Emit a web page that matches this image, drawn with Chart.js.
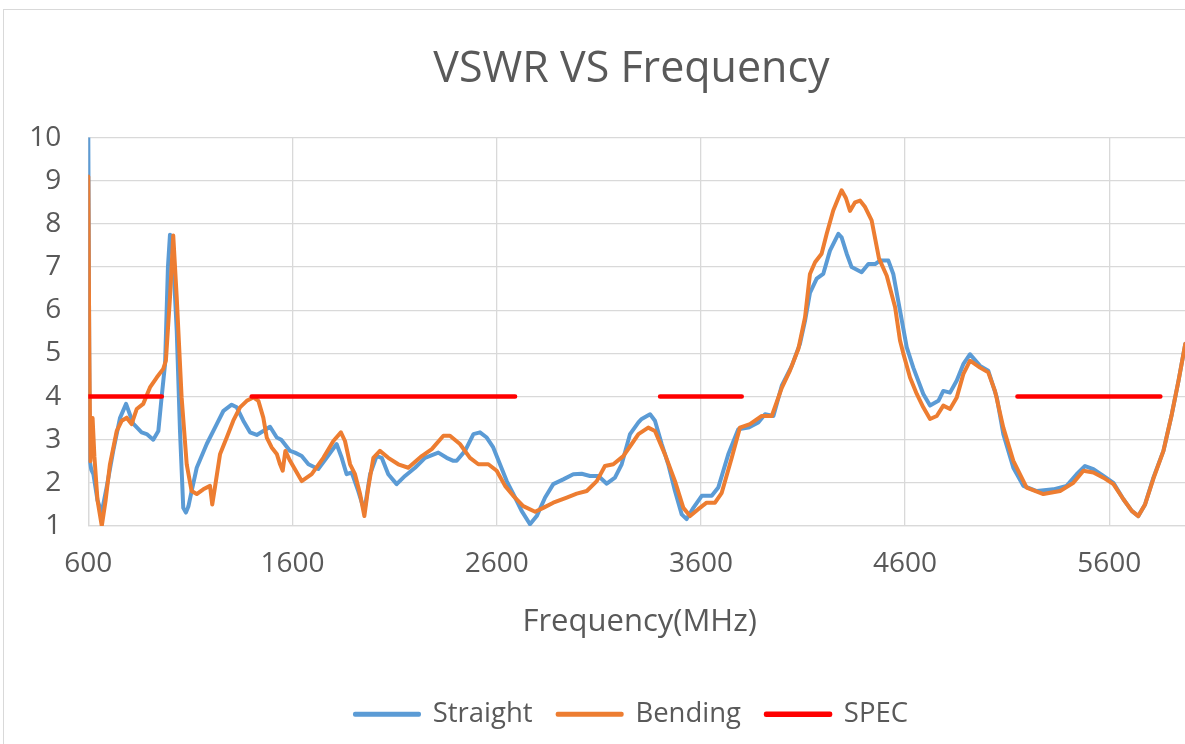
<!DOCTYPE html>
<html>
<head>
<meta charset="utf-8">
<title>VSWR VS Frequency</title>
<script src="https://cdn.jsdelivr.net/npm/chart.js@4.4.1/dist/chart.umd.min.js"></script>
<style>
	html, body { margin: 0; padding: 0; overflow: hidden; background: #fff; }
	#frame  { position: absolute; left: 3px; top: 9px; width: 1400px; height: 900px; border: 1px solid #d9d9d9; }
	#wrap   { position: absolute; left: 0; top: 0; width: 1263px; height: 744px; }
</style>
</head>
<body>
<div id="frame"></div>
<div id="wrap"><canvas id="chart" width="1263" height="744"></canvas></div>
<script>
// x ticks (MHz)
const X_TICKS = [600, 1600, 2600, 3600, 4600, 5600];

// Straight
const STRAIGHT_MHZ  = [600, 607, 615, 625, 645, 665, 690, 722, 755, 785, 820, 861, 886, 918, 943, 959, 976, 990, 1000, 1010,
	1033, 1049, 1065, 1078, 1090, 1106, 1131, 1180, 1229, 1262, 1302, 1327, 1359, 1392, 1425, 1457, 1490, 1523, 1545, 1588,
	1612, 1645, 1678, 1726, 1767, 1816, 1841, 1865, 1890, 1922, 1952, 1980, 2012, 2037, 2069, 2110, 2151, 2200, 2249, 2314,
	2355, 2388, 2404, 2445, 2486, 2518, 2551, 2583, 2616, 2649, 2690, 2722, 2763, 2796, 2837, 2877, 2926, 2975, 3016, 3057,
	3098, 3139, 3179, 3212, 3253, 3294, 3310, 3351, 3375, 3408, 3440, 3473, 3506, 3530, 3563, 3604, 3653, 3685, 3734, 3783,
	3832, 3881, 3914, 3955, 3996, 4045, 4085, 4110, 4134, 4167, 4199, 4232, 4273, 4289, 4314, 4338, 4387, 4420, 4453, 4477,
	4518, 4542, 4575, 4608, 4640, 4689, 4722, 4763, 4787, 4820, 4853, 4885, 4918, 4967, 5007, 5049, 5081, 5130, 5179, 5245,
	5326, 5391, 5440, 5481, 5522, 5571, 5620, 5669, 5710, 5742, 5775, 5816, 5865, 5906, 5939, 5972];
const STRAIGHT_VSWR = [10.0, 2.5, 2.3, 2.2, 1.6, 1.3, 1.9, 2.74, 3.5, 3.83, 3.37, 3.17, 3.13, 3.0, 3.2, 3.98, 4.76, 7.0, 7.75, 7.7,
	5.53, 3.2, 1.42, 1.31, 1.45, 1.81, 2.35, 2.9, 3.36, 3.67, 3.81, 3.75, 3.44, 3.17, 3.11, 3.2, 3.3, 3.05, 3.0, 2.74,
	2.70, 2.62, 2.43, 2.32, 2.58, 2.9, 2.58, 2.2, 2.24, 1.81, 1.35, 2.2, 2.62, 2.58, 2.2, 1.97, 2.16, 2.35, 2.58, 2.70,
	2.58, 2.51, 2.51, 2.74, 3.13, 3.17, 3.05, 2.82, 2.43, 2.04, 1.66, 1.35, 1.04, 1.23, 1.66, 1.97, 2.08, 2.2, 2.21, 2.16,
	2.16, 1.98, 2.12, 2.43, 3.13, 3.4, 3.48, 3.59, 3.44, 2.9, 2.43, 1.81, 1.27, 1.16, 1.42, 1.7, 1.7, 1.89, 2.66, 3.24,
	3.28, 3.4, 3.59, 3.55, 4.25, 4.71, 5.22, 5.76, 6.4, 6.73, 6.84, 7.38, 7.77, 7.69, 7.31, 7.0, 6.88, 7.07, 7.07, 7.15,
	7.15, 6.84, 5.99, 5.14, 4.67, 4.06, 3.79, 3.9, 4.13, 4.09, 4.37, 4.75, 4.98, 4.71, 4.6, 3.98, 3.13, 2.35, 1.93, 1.81,
	1.85, 1.93, 2.2, 2.39, 2.32, 2.16, 2.0, 1.62, 1.35, 1.23, 1.5, 2.12, 2.74, 3.59, 4.37, 5.22];

// Bending
const BENDING_MHZ  = [600, 605, 610, 615, 621, 630, 645, 666, 685, 706, 739, 764, 788, 812, 837, 869, 902, 935, 967, 980,
	1000, 1016, 1033, 1057, 1082, 1106, 1131, 1163, 1196, 1207, 1220, 1245, 1278, 1310, 1343, 1376, 1408, 1433, 1457, 1474,
	1498, 1523, 1539, 1552, 1565, 1588, 1645, 1694, 1751, 1800, 1837, 1857, 1882, 1906, 1931, 1952, 1971, 1996, 2028, 2069,
	2118, 2167, 2233, 2282, 2339, 2371, 2420, 2469, 2510, 2559, 2600, 2641, 2681, 2730, 2788, 2828, 2877, 2943, 2992, 3041,
	3090, 3130, 3171, 3220, 3261, 3294, 3342, 3375, 3424, 3473, 3514, 3547, 3587, 3628, 3669, 3702, 3751, 3791, 3840, 3898,
	3947, 3996, 4036, 4077, 4110, 4134, 4159, 4191, 4216, 4248, 4273, 4289, 4310, 4330, 4355, 4379, 4404, 4436, 4472, 4510,
	4551, 4575, 4591, 4624, 4657, 4689, 4722, 4755, 4787, 4820, 4853, 4885, 4918, 4967, 5007, 5040, 5081, 5130, 5195, 5277,
	5359, 5424, 5473, 5522, 5571, 5620, 5669, 5710, 5742, 5775, 5816, 5865, 5906, 5939, 5972];
const BENDING_VSWR = [9.1, 5.0, 2.5, 3.0, 3.5, 2.6, 1.6, 1.0, 1.6, 2.43, 3.2, 3.44, 3.51, 3.36, 3.71, 3.83, 4.21, 4.44, 4.64, 4.83,
	6.3, 7.73, 6.3, 3.98, 2.43, 1.81, 1.74, 1.85, 1.93, 1.5, 1.89, 2.66, 3.05, 3.44, 3.75, 3.9, 3.98, 3.9, 3.51, 3.05,
	2.82, 2.67, 2.43, 2.28, 2.74, 2.51, 2.04, 2.2, 2.58, 2.97, 3.17, 2.97, 2.43, 2.2, 1.74, 1.23, 1.89, 2.58, 2.74, 2.58,
	2.43, 2.35, 2.62, 2.78, 3.09, 3.09, 2.9, 2.58, 2.43, 2.43, 2.28, 1.93, 1.70, 1.46, 1.33, 1.42, 1.54, 1.66, 1.75, 1.81,
	2.04, 2.39, 2.43, 2.62, 2.9, 3.13, 3.28, 3.2, 2.66, 2.04, 1.42, 1.23, 1.39, 1.54, 1.54, 1.77, 2.58, 3.28, 3.36, 3.55,
	3.55, 4.2, 4.6, 5.1, 5.84, 6.84, 7.11, 7.31, 7.77, 8.31, 8.6, 8.78, 8.6, 8.3, 8.5, 8.54, 8.39, 8.08, 7.2, 6.8,
	6.07, 5.3, 5.0, 4.44, 4.06, 3.75, 3.48, 3.55, 3.79, 3.71, 3.98, 4.52, 4.83, 4.67, 4.56, 4.13, 3.28, 2.51, 1.89, 1.74,
	1.81, 2.0, 2.28, 2.24, 2.12, 1.97, 1.62, 1.35, 1.23, 1.5, 2.1, 2.74, 3.59, 4.37, 5.22];

// SPEC
const SPEC_BANDS = [[600, 960], [1400, 2690], [3400, 3800], [5150, 5850]];
const SPEC_LEVEL = 4;

const FONT  = '"Open Sans", "DejaVu Sans", sans-serif';
const GREY  = '#595959';
const GRID  = '#d9d9d9';

const toPoints = (xs, ys) => xs.map((x, i) => ({ x, y: ys[i] }));

const specPoints = [];
SPEC_BANDS.forEach(([a, b], i) => {
	if (i > 0) specPoints.push({ x: (SPEC_BANDS[i - 1][1] + a) / 2, y: null });
	specPoints.push({ x: a, y: SPEC_LEVEL }, { x: b, y: SPEC_LEVEL });
});

const line = (label, data, color, width, order) => ({
	label, data, order,
	borderColor: color,
	backgroundColor: color,
	borderWidth: width,
	pointRadius: 0,
	tension: 0,
	spanGaps: false,
	borderCapStyle: 'round',
	borderJoinStyle: 'round'
});

new Chart(document.getElementById('chart').getContext('2d'), {
	type: 'line',
	data: {
		datasets: [
			line('Straight', toPoints(STRAIGHT_MHZ, STRAIGHT_VSWR), '#5b9bd5', 4, 2),
			line('Bending',  toPoints(BENDING_MHZ, BENDING_VSWR),  '#ed7d31', 4, 1),
			line('SPEC',     specPoints,                           '#ff0000', 4.5, 0)
		]
	},
	options: {
		responsive: false,
		animation: false,
		devicePixelRatio: 1,
		layout: { padding: { left: 0, top: 0, right: 0, bottom: 6 } },
		plugins: {
			tooltip: { enabled: false },
			title: {
				display: true,
				text: 'VSWR VS Frequency',
				color: GREY,
				font: { family: FONT, size: 43, weight: 'normal' },
				padding: { top: 44, bottom: 42 }
			},
			legend: {
				position: 'bottom',
				labels: {
					color: GREY,
					font: { family: FONT, size: 27.5 },
					boxWidth: 64,
					boxHeight: 1,
					padding: 25,
					sort: (a, b) => a.datasetIndex - b.datasetIndex
				}
			}
		},
		scales: {
			x: {
				type: 'linear',
				min: 600,
				max: 6000,
				afterBuildTicks: s => { s.ticks = X_TICKS.map(v => ({ value: v })); },
				ticks: {
					color: GREY,
					font: { family: FONT, size: 28 },
					padding: 21,
					maxRotation: 0,
					autoSkip: false,
					callback: v => String(v)
				},
				grid: { color: GRID, lineWidth: 1.3, drawTicks: false },
				border: { color: GRID, width: 1.3 },
				title: {
					display: true,
					text: 'Frequency(MHz)',
					color: GREY,
					font: { family: FONT, size: 31 },
					padding: { top: 1.7, bottom: 35 }
				}
			},
			y: {
				min: 1,
				max: 10,
				ticks: {
					stepSize: 1,
					color: GREY,
					font: { family: FONT, size: 28 },
					padding: 27
				},
				afterFit: s => { s.width = 88.3; },
				grid: { color: GRID, lineWidth: 1.3, drawTicks: false },
				border: { color: GRID, width: 1.3 }
			},
			// blank spacer on the right: the original frame runs past the crop, this keeps title/legend centred like it
			spacer: {
				type: 'linear',
				position: 'right',
				ticks: { display: false },
				grid: { display: false, drawOnChartArea: false },
				border: { display: false },
				afterFit: s => { s.width = 72; }
			}
		}
	}
});
</script>
</body>
</html>
